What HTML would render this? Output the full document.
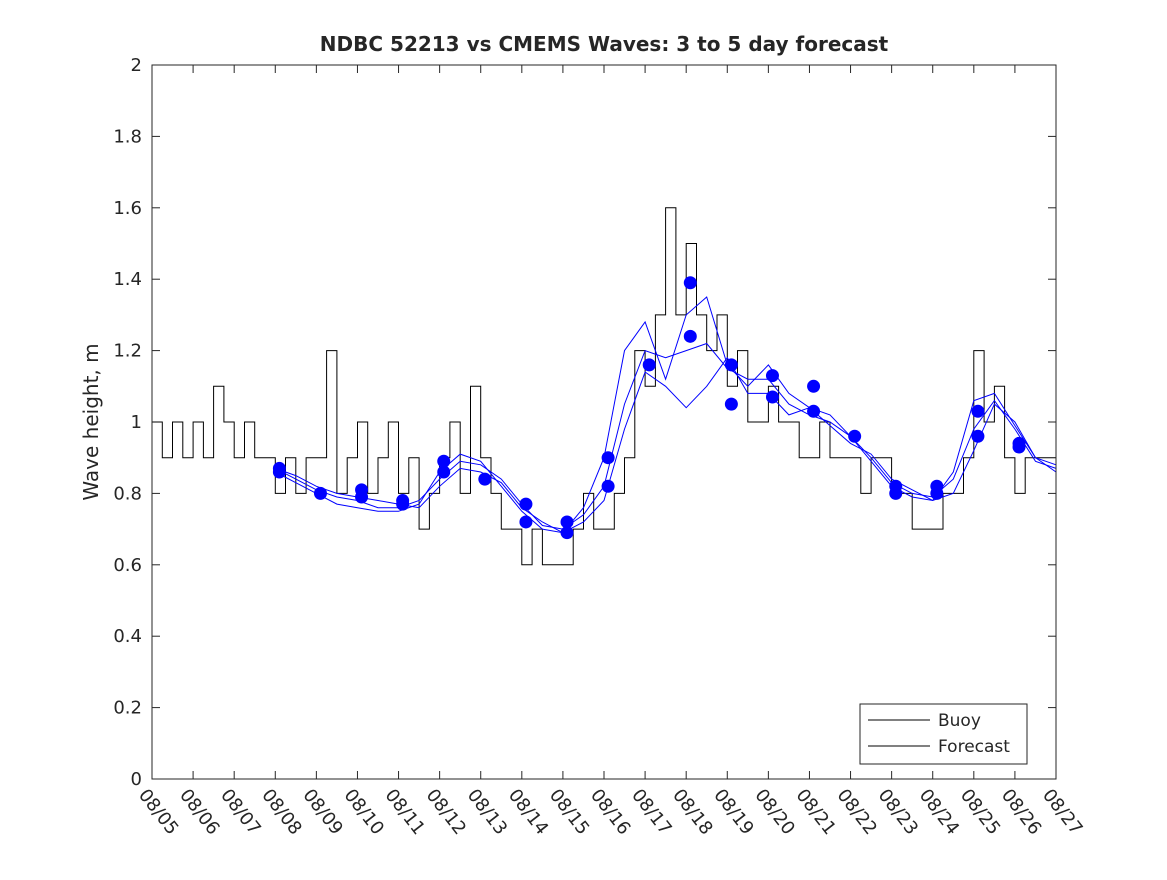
<!DOCTYPE html>
<html><head><meta charset="utf-8"><style>
body{margin:0;background:#fff;}
svg text{font-family:"DejaVu Sans","Liberation Sans",sans-serif;fill:#262626;}
</style></head><body>
<svg id="chart" width="1167" height="875" viewBox="0 0 1167 875" xmlns="http://www.w3.org/2000/svg">
<rect width="1167" height="875" fill="#fff"/>
<text x="604" y="51" font-size="20" font-weight="bold" text-anchor="middle">NDBC 52213 vs CMEMS Waves: 3 to 5 day forecast</text>
<text transform="translate(98,422) rotate(-90)" font-size="20" text-anchor="middle">Wave height, m</text>
<g id="grid"></g>
<g id="series"></g>
<rect x="152" y="65" width="904" height="714" fill="none" stroke="#262626" stroke-width="1"/>
<g>
<rect x="860" y="704" width="167" height="60" fill="#fff" stroke="#262626"/>
<line x1="868" y1="720" x2="930" y2="720" stroke="#000"/>
<text x="938" y="726" font-size="17">Buoy</text>
<line x1="868" y1="746" x2="930" y2="746" stroke="#000"/>
<text x="938" y="752" font-size="17">Forecast</text>
</g>
</svg>
<script>
const dateLabels=["08/05","08/06","08/07","08/08","08/09","08/10","08/11","08/12","08/13","08/14","08/15","08/16","08/17","08/18","08/19","08/20","08/21","08/22","08/23","08/24","08/25","08/26","08/27"];
const yTicks=[0,0.2,0.4,0.6,0.8,1,1.2,1.4,1.6,1.8,2];
const yTickLabels=["0","0.2","0.4","0.6","0.8","1","1.2","1.4","1.6","1.8","2"];
// buoy: 6-hourly values starting day 0 (08/05)
const buoy=[1.0,0.9,1.0,0.9, 1.0,0.9,1.1,1.0, 0.9,1.0,0.9,0.9, 0.8,0.9,0.8,0.9, 0.9,1.2,0.8,0.9,
 1.0,0.8,0.9,1.0, 0.8,0.9,0.7,0.8, 0.9,1.0,0.8,1.1, 0.9,0.8,0.7,0.7, 0.6,0.7,0.6,0.6,
 0.6,0.7,0.8,0.7, 0.7,0.8,0.9,1.2, 1.1,1.3,1.6,1.3, 1.5,1.3,1.2,1.3, 1.1,1.2,1.0,1.0,
 1.1,1.0,1.0,0.9, 0.9,1.0,0.9,0.9, 0.9,0.8,0.9,0.9, 0.8,0.8,0.7,0.7, 0.7,0.8,0.8,0.9,
 1.2,1.0,1.1,0.9, 0.8,0.9,0.9,0.9, 0.9];
// forecast runs: half-day values from day 3 to day 22
const fcA=[0.87,0.84,0.81,0.79,0.78,0.76,0.76,0.78,0.84,0.89,0.88,0.84,0.77,0.71,0.70,0.74,0.82,1.05,1.20,1.18,1.20,1.22,1.15,1.12,1.12,1.05,1.02,1.00,0.96,0.90,0.83,0.80,0.79,0.84,0.98,1.06,0.98,0.89,0.87];
const fcB=[0.86,0.83,0.80,0.77,0.76,0.75,0.75,0.77,0.86,0.91,0.89,0.82,0.75,0.70,0.69,0.76,0.90,1.20,1.28,1.12,1.30,1.35,1.16,1.10,1.16,1.08,1.04,1.02,0.96,0.89,0.82,0.79,0.78,0.86,1.06,1.08,0.99,0.90,0.86];
const fcC=[0.87,0.85,0.82,0.80,0.79,0.78,0.77,0.76,0.82,0.87,0.86,0.83,0.76,0.72,0.69,0.72,0.78,0.98,1.14,1.10,1.04,1.10,1.18,1.08,1.08,1.02,1.04,0.99,0.94,0.91,0.84,0.81,0.78,0.80,0.92,1.05,1.00,0.90,0.88];
const dotDays=[3.1,3.1,4.1,5.1,5.1,6.1,6.1,7.1,7.1,8.1,9.1,9.1,10.1,10.1,11.1,11.1,12.1,13.1,13.1,14.1,14.1,15.1,15.1,16.1,16.1,17.1,18.1,18.1,19.1,19.1,20.1,20.1,21.1,21.1];
const dotVals=[0.87,0.86,0.80,0.81,0.79,0.78,0.77,0.89,0.86,0.84,0.77,0.72,0.72,0.69,0.90,0.82,1.16,1.39,1.24,1.16,1.05,1.13,1.07,1.10,1.03,0.96,0.82,0.80,0.82,0.80,1.03,0.96,0.94,0.93];

const X0=152,X1=1056,Y0=779,Y1=65;
const xs=d=>X0+(X1-X0)*d/22;
const ys=v=>Y0-(Y0-Y1)*v/2;
const NS="http://www.w3.org/2000/svg";
const grid=document.getElementById('grid'),ser=document.getElementById('series');
function mk(t,a,p){const e=document.createElementNS(NS,t);for(const k in a)e.setAttribute(k,a[k]);p.appendChild(e);return e;}
yTicks.forEach((v,i)=>{
 const y=ys(v);
 const t=mk('line',{x1:X0,x2:X0+8,y1:y,y2:y,stroke:'#262626'},grid);
 
 
 mk('line',{x1:X1-8,x2:X1,y1:y,y2:y,stroke:'#262626'},grid);
 const l=mk('text',{x:X0-10,y:y+6,'font-size':18,'text-anchor':'end'},grid);
 l.textContent=yTickLabels[i];
 
 
});
dateLabels.forEach((s,i)=>{
 const x=xs(i);
 const t=mk('line',{x1:x,x2:x,y1:Y0,y2:Y0-8,stroke:'#262626'},grid);
 
 
 mk('line',{x1:x,x2:x,y1:Y1,y2:Y1+8,stroke:'#262626'},grid);
 const l=mk('text',{x:0,y:0,'font-size':18,transform:`translate(${x-14},${Y0+16}) rotate(52)`},grid);
 l.textContent=s;
 
 
});
let d='';
buoy.forEach((v,i)=>{const x=xs(i*0.25),y=ys(v);d+=(i?`H${x.toFixed(1)}V${y.toFixed(1)}`:`M${x.toFixed(1)},${y.toFixed(1)}`);});
d+=`H${xs(22)}`;
const bl=mk('path',{d:d,fill:'none',stroke:'#000','stroke-width':1},ser);


[fcA,fcB,fcC].forEach((arr,k)=>{
 const p=arr.map((v,i)=>`${i?'L':'M'}${xs(3+i*0.5).toFixed(1)},${ys(v).toFixed(1)}`).join('');
 const fl=mk('path',{d:p,fill:'none',stroke:'#0000ff','stroke-width':1},ser);
 
 
});
dotDays.forEach((dd,i)=>{
 const c=mk('circle',{cx:xs(dd),cy:ys(dotVals[i]),r:6.5,fill:'#0000ff'},ser);
 
 
});
</script>
</body></html>
